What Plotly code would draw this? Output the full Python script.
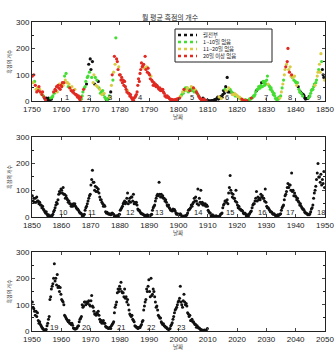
import plotly.graph_objects as go

# Quarterly estimates of monthly sunspot numbers (4 per year)
ssn_1750 = [
    95, 70, 100, 75,  60, 45, 35, 50,  40, 55, 45, 35,  30, 25, 35, 20,  15, 10, 5, 12,
    8, 3, 12, 5,  5, 12, 8, 15,  20, 35, 30, 45,  40, 55, 35, 60,  50, 65, 45, 60,
    55, 70, 60, 70,  95, 80, 105, 70,  70, 55, 65, 50,  50, 40, 55, 35,  40, 30, 45, 25,
    25, 20, 15, 20,  10, 5, 15, 8,  20, 35, 45, 50,  55, 75, 65, 90,  95, 140, 110, 160,
    120, 90, 150, 70,  100, 65, 90, 60,  80, 55, 75, 50,  45, 30, 35, 25,  40, 25, 30, 15,
    10, 5, 3, 8,  10, 20, 15, 35,  60, 100, 80, 110,  170, 140, 240, 160,  150, 120, 130, 100,
    100, 80, 90, 70,  80, 60, 75, 55,  45, 35, 40, 30,  30, 20, 25, 15,  10, 5, 3, 12,
    15, 20, 25, 35,  60, 85, 75, 105,  120, 145, 130, 135,  140, 125, 170, 120,  130, 110, 125, 105,
    100, 85, 95, 80,  75, 60, 70, 60,  65, 55, 60, 55,  50, 45, 50, 40,  45, 40, 45, 35,
    30, 20, 20, 15,  20, 15, 15, 10,  8, 5, 7, 5,  3, 5, 2, 6,  5, 8, 4, 10,
    10, 12, 18, 20,  25, 35, 30, 45,  40, 50, 40, 50,  50, 35, 45, 40,  45, 55, 40, 50,
    50, 35, 45, 40,  35, 30, 25, 20,  15, 10, 8, 5,  5, 12, 8, 6,  2, 3, 1, 4,
    0, 0, 1, 0,  0, 2, 1, 3,  3, 6, 5, 8,  10, 15, 8, 16,  12, 18, 10, 15,
    25, 40, 30, 45,  55, 40, 90, 35,  50, 35, 45, 35,  35, 25, 30, 25,  30, 20, 25, 20,
    20, 15, 12, 15,  10, 5, 8, 4,  3, 5, 2, 6,  1, 2, 0, 3,  5, 10, 8, 12,
    12, 15, 20, 20,  25, 35, 40, 45,  45, 55, 50, 50,  60, 70, 55, 75,  70, 60, 75, 65,
    80, 95, 65, 60,  55, 45, 50, 40,  35, 25, 30, 20,  10, 8, 5, 12,  8, 15, 12, 20,
    35, 50, 65, 80,  100, 120, 130, 140,  150, 200, 120, 110,  130, 95, 100, 90,  90, 80, 95, 75,
    70, 60, 70, 55,  45, 35, 35, 30,  30, 20, 25, 20,  12, 8, 10, 10,  10, 12, 18, 20,
    30, 40, 45, 45,  55, 65, 60, 70,  80, 95, 110, 120,  140, 110, 180, 150,  120, 100, 90, 80,
]

# Observation quality per quarter, 1750-1849 (B: whole month, G: 1-10 days missing,
# Y: 11-20 days missing, R: more than 20 days missing)
quality_1750 = [
    "RYRG", "RYRY", "RRYR", "YRRG", "RBRB", "BBBB", "BGBG", "GRGR", "RRYR", "RYRR",
    "RRYR", "GYGY", "YGYR", "YRYR", "RRYR", "RRRR", "RRRG", "GGRG", "GGBG", "GBGB",
    "BGBY", "YBGY", "GYBG", "YGGY", "GGYG", "GBGB", "GGYB", "YRGY", "RYGR", "RRYR",
    "RRRR", "RRRR", "RRYR", "RRRR", "RRRR", "RRRR", "RRRR", "RRRR", "RYRR", "YRRR",
    "RRYR", "RRRR", "RRRR", "RRRR", "RRRR", "RRRR", "RRRR", "RRRR", "RRRR", "RRRR",
    "GRYG", "GYGR", "GGYG", "YGGR", "GYGG", "RGYG", "RRGR", "RRRR", "RBRR", "BBRB",
    "BBBB", "BBBB", "BBBB", "BBBY", "BBYB", "BBBG", "BYBB", "YBGB", "GYBY", "YGYG",
    "YYGY", "GYRY", "RYRG", "GRGG", "GGGR", "GGGG", "GGBG", "GGGG", "GBGG", "GGGG",
    "GGYG", "GGGG", "GGGG", "GGGG", "GGYG", "YGYG", "YYRY", "RRYR", "YYRG", "YGYG",
    "GYGB", "GGBG", "BGBB", "BBBB", "BGBG", "GGGG", "GGYG", "GYYG", "YYYG", "BBBY",
]

ssn_1850 = [
    80, 60, 70, 55,  70, 55, 75, 60,  60, 50, 55, 45,  45, 35, 40, 30,  25, 20, 15, 20,
    10, 5, 8, 3,  2, 5, 3, 6,  10, 20, 25, 35,  45, 55, 50, 65,  85, 95, 90, 105,
    100, 90, 110, 85,  85, 70, 80, 70,  65, 55, 60, 50,  50, 40, 45, 40,  50, 45, 50, 40,
    35, 30, 30, 25,  20, 15, 15, 12,  5, 8, 6, 10,  25, 35, 40, 50,  60, 70, 80, 85,
    120, 140, 175, 130,  130, 100, 115, 95,  110, 95, 105, 90,  75, 65, 65, 55,  50, 40, 45, 40,
    20, 15, 18, 12,  12, 10, 12, 8,  10, 15, 12, 10,  2, 4, 1, 5,  3, 5, 8, 10,
    25, 30, 35, 40,  50, 55, 60, 50,  55, 70, 90, 50,  60, 70, 55, 75,  75, 60, 85, 50,
    55, 50, 55, 45,  30, 25, 25, 20,  15, 12, 12, 10,  8, 6, 7, 5,  5, 8, 4, 6,
    5, 6, 8, 10,  25, 35, 40, 45,  60, 70, 80, 85,  80, 130, 85, 75,  85, 75, 80, 70,
    70, 60, 65, 55,  45, 40, 45, 35,  30, 25, 25, 22,  30, 25, 28, 22,  15, 10, 12, 10,
    10, 8, 12, 8,  2, 3, 2, 4,  3, 5, 6, 8,  15, 25, 28, 30,  35, 45, 40, 50,
    55, 70, 60, 75,  60, 50, 105, 45,  70, 55, 100, 50,  55, 45, 50, 45,  50, 40, 45, 40,
    25, 20, 15, 15,  5, 6, 8, 4,  3, 4, 2, 5,  1, 2, 1, 2,  5, 10, 12, 15,
    35, 45, 50, 60,  60, 55, 65, 50,  90, 110, 155, 100,  90, 75, 85, 70,  70, 60, 100, 55,
    45, 35, 40, 30,  30, 25, 25, 22,  15, 12, 15, 12,  5, 6, 8, 4,  10, 15, 20, 22,
    35, 45, 50, 50,  60, 70, 95, 60,  75, 65, 70, 65,  85, 75, 80, 70,  70, 60, 105, 55,
    40, 35, 35, 30,  25, 20, 20, 18,  12, 10, 12, 8,  5, 6, 4, 8,  6, 8, 10, 12,
    25, 35, 40, 45,  65, 80, 85, 95,  110, 125, 110, 120,  120, 100, 165, 95,  100, 80, 90, 80,
    75, 65, 70, 60,  55, 45, 50, 40,  35, 30, 30, 25,  18, 15, 15, 12,  8, 10, 8, 12,
    20, 30, 35, 45,  70, 90, 100, 115,  140, 165, 200, 150,  150, 130, 160, 120,  140, 125, 170, 110,
]

ssn_1950 = [
    110, 90, 85, 75,  60, 75, 55, 70,  40, 30, 35, 25,  20, 15, 10, 8,  2, 3, 5, 6,
    20, 30, 45, 55,  120, 130, 160, 170,  180, 200, 255, 190,  200, 175, 215, 165,  170, 150, 165, 140,
    120, 115, 110, 100,  60, 55, 50, 45,  40, 35, 40, 30,  30, 25, 30, 22,  12, 10, 8, 8,
    10, 12, 18, 20,  35, 45, 50, 55,  100, 90, 95, 110,  110, 100, 110, 105,  110, 115, 100, 95,
    115, 135, 95, 90,  75, 65, 65, 60,  70, 65, 75, 60,  45, 35, 40, 30,  35, 40, 30, 30,
    18, 15, 15, 12,  10, 12, 15, 10,  20, 25, 30, 35,  70, 90, 100, 110,  145, 160, 150, 170,
    160, 185, 150, 145,  145, 130, 160, 125,  130, 110, 120, 100,  80, 65, 60, 55,  60, 45, 40, 35,
    20, 18, 15, 15,  10, 12, 15, 14,  20, 25, 35, 40,  80, 95, 110, 120,  160, 150, 170, 195,
    150, 130, 200, 135,  140, 160, 150, 130,  110, 90, 95, 80,  60, 55, 50, 50,  35, 30, 25, 28,
    20, 18, 15, 15,  10, 8, 6, 8,  10, 20, 25, 32,  45, 55, 70, 80,  85, 90, 100, 110,
    115, 125, 170, 110,  100, 90, 115, 140,  110, 100, 105, 95,  70, 65, 55, 60,  40, 40, 45, 35,
    35, 30, 25, 25,  15, 20, 15, 12,  12, 8, 5, 5,  3, 2, 3, 4,  1, 2, 5, 10,
]

panel_starts = [1750, 1850, 1950]
cycle_labels = [
    ["1", "2", "3", "4", "5", "6", "7", "8", "9"],
    ["10", "11", "12", "13", "14", "15", "16", "17", "18"],
    ["19", "20", "21", "22", "23"],
]
cycle_years = [
    [1762, 1769.5, 1776.5, 1787, 1804.5, 1816.5, 1830, 1838, 1848],
    [1860.5, 1870.5, 1883.5, 1893.5, 1906.5, 1917.5, 1928.5, 1938, 1948.5],
    [1957.5, 1968.5, 1980.5, 1990.5, 2001],
]
quality_order = ["B", "G", "Y", "R"]
quality_names = ["월전부", "1~10일 없음", "11~20일 없음", "20일 이상 없음"]
quality_colors = ["#111111", "#44dd33", "#d9cc44", "#e02a22"]

title_text = "월 평균 흑점의 개수"
x_title = "날짜"
y_title = "흑점의 개수"

KFONT = "Noto Sans CJK KR"
NFONT = "Liberation Sans, Arial"


def years_for(start, values):
    return [start + (i + 0.5) / 4 for i in range(len(values))]


fig = go.Figure()

# Panel 1 coloured by observation quality
x1 = years_for(1750, ssn_1750)
q1 = "".join(quality_1750)
for code, name, col in zip(quality_order, quality_names, quality_colors):
    xs = [x for x, q in zip(x1, q1) if q == code]
    ys = [v for v, q in zip(ssn_1750, q1) if q == code]
    fig.add_trace(go.Scatter(
        x=xs, y=ys, mode="markers", xaxis="x", yaxis="y", name=name,
        marker=dict(size=3.2, color=col), showlegend=False, hoverinfo="skip"))

fig.add_trace(go.Scatter(
    x=years_for(1850, ssn_1850), y=ssn_1850, mode="markers", xaxis="x2", yaxis="y2",
    marker=dict(size=3, color="#111111"), showlegend=False, hoverinfo="skip"))
fig.add_trace(go.Scatter(
    x=years_for(1950, ssn_1950), y=ssn_1950, mode="markers", xaxis="x3", yaxis="y3",
    marker=dict(size=3, color="#111111"), showlegend=False, hoverinfo="skip"))

domains = [[0.711, 0.937], [0.380, 0.609], [0.054, 0.280]]
xdom = [0.0955, 0.970]
xtitle_px = [117.5, 233.0, 347.0]

annotations = []
shapes = []

# Hand-built compact legend (plotly's legend rows are too tall at this size)
W, H = 335.0, 350.0
box_l, box_r, box_t, box_b = 175, 272, 29, 62
shapes.append(dict(type="rect", xref="paper", yref="paper",
                   x0=box_l / W, x1=box_r / W, y0=1 - box_b / H, y1=1 - box_t / H,
                   line=dict(color="#222222", width=1), fillcolor="white", layer="above"))
LEG_FS = 5.4
row_gap = LEG_FS * 1.3
row_mid = (box_t + box_b) / 2.0
row_px = [row_mid + (k - 1.5) * row_gap for k in range(4)]
for rp, col in zip(row_px, quality_colors):
    yy = 1 - rp / H
    shapes.append(dict(type="line", xref="paper", yref="paper",
                       x0=178 / W, x1=197 / W, y0=yy, y1=yy, layer="above",
                       line=dict(color=col, width=2.5, dash="dot")))
annotations.append(dict(x=201 / W, y=1 - row_mid / H, xref="paper", yref="paper",
                        text="<br>".join(quality_names), align="left",
                        xanchor="left", yanchor="middle", showarrow=False,
                        font=dict(family=KFONT, size=LEG_FS, color="#222222")))

layout = dict(
    width=335, height=350,
    margin=dict(l=0, r=0, t=0, b=0),
    paper_bgcolor="white", plot_bgcolor="white",
    showlegend=False,
)

for i in range(3):
    sfx = "" if i == 0 else str(i + 1)
    start = panel_starts[i]
    layout["xaxis" + sfx] = dict(
        domain=xdom, anchor="y" + sfx, range=[start, start + 100],
        dtick=10, tick0=start, ticks="inside", ticklen=3, mirror="ticks",
        showline=True, linecolor="#222222", linewidth=1, showgrid=False, zeroline=False,
        tickfont=dict(family=NFONT, size=8, color="#222222"),
        automargin=False,
    )
    layout["yaxis" + sfx] = dict(
        domain=domains[i], anchor="x" + sfx, range=[0, 300],
        dtick=100, ticks="inside", ticklen=3, mirror="ticks",
        minor=dict(dtick=50, ticks="inside", ticklen=2, tickcolor="#222222"),
        showline=True, linecolor="#222222", linewidth=1, showgrid=False, zeroline=False,
        tickfont=dict(family=NFONT, size=8, color="#222222"),
        title=dict(text=y_title, font=dict(family=KFONT, size=5, color="#333333"), standoff=4),
        automargin=False,
    )
    annotations.append(dict(
        x=(xdom[0] + xdom[1]) / 2, y=1 - xtitle_px[i] / H, xref="paper", yref="paper",
        text=x_title, showarrow=False, yanchor="middle", borderpad=0,
        font=dict(family=KFONT, size=5.5, color="#333333")))
    for lab, yr in zip(cycle_labels[i], cycle_years[i]):
        annotations.append(dict(
            x=yr, y=15, xref="x" + sfx, yref="y" + sfx, text=lab, showarrow=False,
            font=dict(family=NFONT, size=7.5, color="#222222")))

annotations.append(dict(
    x=0.51, y=0.972, xref="paper", yref="paper", text=title_text, showarrow=False,
    font=dict(family=KFONT, size=7, color="#333333")))

layout["annotations"] = annotations
layout["shapes"] = shapes
fig.update_layout(**layout)
fig.write_html("out.html")
